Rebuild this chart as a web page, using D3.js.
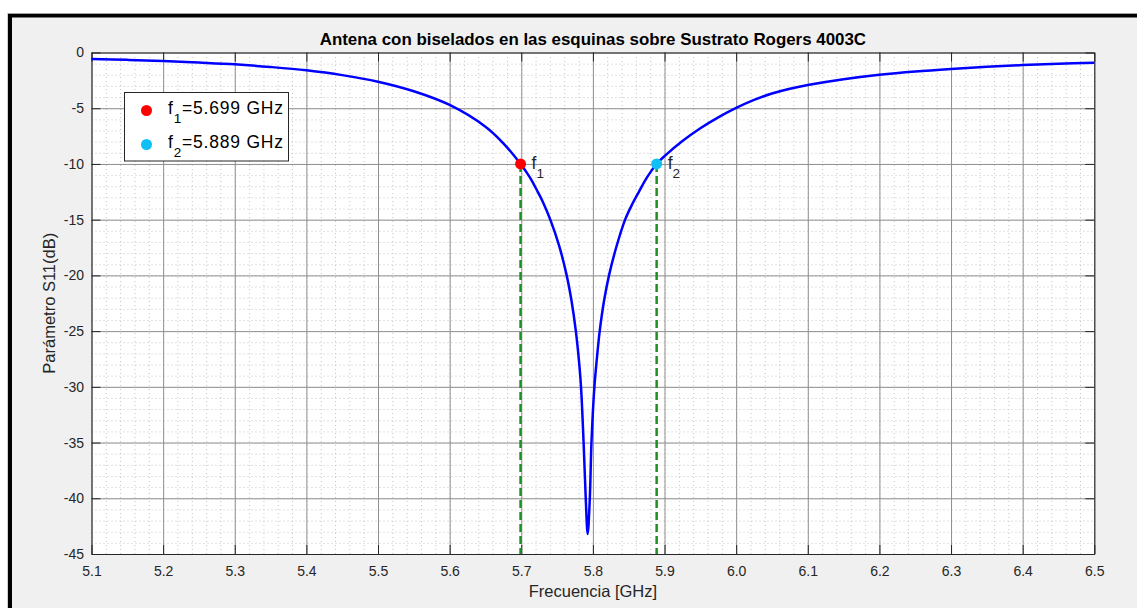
<!DOCTYPE html>
<html>
<head>
<meta charset="utf-8">
<script src="https://cdn.jsdelivr.net/npm/d3@7"></script>
<style>
	body { margin: 0; background: white; }
	text { font-family: "Liberation Sans", Arial, Helvetica, sans-serif; }
</style>
</head>
<body>
<svg id="canvas" width="1137" height="608"></svg>
<script>

//****************************************************************************************************************************//
// Data

var freq = [5.10, 5.15, 5.20, 5.25, 5.30, 5.35, 5.40, 5.45, 5.50, 5.55, 5.60, 5.65, 5.675, 5.699, 5.712, 5.723, 5.7308, 5.7405, 5.7527,
			5.7634, 5.7702, 5.7762, 5.7803, 5.7834, 5.787, 5.790, 5.7927, 5.7957, 5.798, 5.8021, 5.8055, 5.8095, 5.8155, 5.8225, 5.8325,
			5.845, 5.855, 5.8642, 5.8755, 5.889, 5.90, 5.925, 5.95, 5.975, 6.00, 6.025, 6.05, 6.075, 6.10, 6.15, 6.20, 6.25, 6.30, 6.35, 6.40, 6.45, 6.50];
var s11 = [-0.58, -0.66, -0.76, -0.90, -1.06, -1.30, -1.60, -2.03, -2.62, -3.48, -4.71, -6.66, -8.15, -10.0, -11.2, -12.5, -13.5, -15.0, -17.3,
			-20.0, -22.3, -25.0, -27.5, -30.0, -35.0, -40.0, -43.2, -40.0, -35.0, -30.0, -27.5, -25.0, -22.3, -20.0, -17.5,
			-15.0, -13.6, -12.5, -11.2, -10.0, -9.3, -7.95, -6.8, -5.82, -4.97, -4.25, -3.68, -3.25, -2.92, -2.40, -2.00, -1.70, -1.47, -1.28, -1.13, -1.01, -0.91];

var markerFreq = [5.699, 5.889];
var markerDb = [-10, -10];
var markerNames = ["1", "2"];
var markerColors = ["#ff0000", "#0fbff5"];

var xTicks = [5.1, 5.2, 5.3, 5.4, 5.5, 5.6, 5.7, 5.8, 5.9, 6.0, 6.1, 6.2, 6.3, 6.4, 6.5];
var yTicks = [0, -5, -10, -15, -20, -25, -30, -35, -40, -45];

//****************************************************************************************************************************//
// Canvas & Figure frame

var width = 1137, height = 608;
var canvas = d3.select("#canvas");

canvas.append("rect")
		.attr("x", 7.5).attr("y", 13)
		.attr("width", 1200).attr("height", 700)
		.attr("fill", "#a0a0a0");
canvas.append("rect")
		.attr("x", 8).attr("y", 14)
		.attr("width", 1200).attr("height", 700)
		.attr("fill", "#000");
canvas.append("rect")
		.attr("x", 12).attr("y", 17.5)
		.attr("width", 1200).attr("height", 700)
		.attr("fill", "#f0f0f0");

var plot = { left : 91.5, right : 1094.3, top : 52.5, bottom : 554 };
var plotW = plot.right - plot.left, plotH = plot.bottom - plot.top;

var x = d3.scaleLinear().domain([5.1, 6.5]).range([plot.left, plot.right]);
var y = d3.scaleLinear().domain([-45, 0]).range([plot.bottom, plot.top]);

canvas.append("rect")
		.attr("x", plot.left).attr("y", plot.top)
		.attr("width", plotW).attr("height", plotH)
		.attr("fill", "white");

//****************************************************************************************************************************//
// Grid

var xMinor = d3.range(5.1, 6.5001, 0.02), yMinor = d3.range(-45, 0.001, 1);

canvas.append("g")
		.attr("transform", "translate(0," + plot.bottom + ")")
		.call(d3.axisBottom(x).tickValues(xMinor).tickSize(-plotH).tickFormat(""))
		.call(g => g.select(".domain").remove())
		.selectAll("line").attr("stroke", "#c4c4c4").attr("stroke-dasharray", "1,3");
canvas.append("g")
		.attr("transform", "translate(" + plot.left + ",0)")
		.call(d3.axisLeft(y).tickValues(yMinor).tickSize(-plotW).tickFormat(""))
		.call(g => g.select(".domain").remove())
		.selectAll("line").attr("stroke", "#c4c4c4").attr("stroke-dasharray", "1,3");

canvas.append("g")
		.attr("transform", "translate(0," + plot.bottom + ")")
		.call(d3.axisBottom(x).tickValues(xTicks).tickSize(-plotH).tickFormat(""))
		.call(g => g.select(".domain").remove())
		.selectAll("line").attr("stroke", "#8f8f8f");
canvas.append("g")
		.attr("transform", "translate(" + plot.left + ",0)")
		.call(d3.axisLeft(y).tickValues(yTicks).tickSize(-plotW).tickFormat(""))
		.call(g => g.select(".domain").remove())
		.selectAll("line").attr("stroke", "#8f8f8f");

//****************************************************************************************************************************//
// Axes

function styleAxis(g){
	g.select(".domain").attr("stroke", "#262626");
	g.selectAll(".tick line").attr("stroke", "#262626");
	g.selectAll("text").attr("fill", "#262626").style("font-size", "14px")
		.style("font-family", "'Liberation Sans', Arial, sans-serif");
}

canvas.append("g")
		.attr("transform", "translate(0," + plot.bottom + ")")
		.call(d3.axisBottom(x).tickValues(xTicks).tickSize(-9).tickSizeOuter(0).tickPadding(12).tickFormat(d3.format(".1f")))
		.call(styleAxis);
canvas.append("g")
		.attr("transform", "translate(0," + plot.top + ")")
		.call(d3.axisTop(x).tickValues(xTicks).tickSize(-9).tickSizeOuter(0).tickFormat(""))
		.call(styleAxis);
canvas.append("g")
		.attr("transform", "translate(" + plot.left + ",0)")
		.call(d3.axisLeft(y).tickValues(yTicks).tickSize(-9).tickSizeOuter(0).tickPadding(7.5).tickFormat(d => String(d)))
		.call(styleAxis);
canvas.append("g")
		.attr("transform", "translate(" + plot.right + ",0)")
		.call(d3.axisRight(y).tickValues(yTicks).tickSize(-9).tickSizeOuter(0).tickFormat(""))
		.call(styleAxis);

// Labels
canvas.append("text")
		.attr("x", (plot.left + plot.right) / 2)
		.attr("y", 44.5)
		.attr("text-anchor", "middle")
		.style("font-size", "16.9px")
		.style("font-weight", "bold")
		.attr("fill", "#000")
		.text("Antena con biselados en las esquinas sobre Sustrato Rogers 4003C");

canvas.append("text")
		.attr("x", (plot.left + plot.right) / 2)
		.attr("y", 597)
		.attr("text-anchor", "middle")
		.style("font-size", "16.5px")
		.attr("fill", "#262626")
		.text("Frecuencia [GHz]");

canvas.append("text")
		.attr("transform", "translate(55," + (plot.top + plot.bottom) / 2 + ") rotate(-90)")
		.attr("text-anchor", "middle")
		.style("font-size", "16.5px")
		.attr("fill", "#262626")
		.text("Parámetro S11(dB)");

//****************************************************************************************************************************//
// Curve

var curve = d3.line()
			.x((d, i) => x(freq[i]))
			.y(d => y(d))
			.curve(d3.curveCatmullRom.alpha(0.5));

canvas.append("path")
		.attr("d", curve(s11))
		.attr("fill", "none")
		.attr("stroke", "#0000ff")
		.attr("stroke-width", 2.5)
		.attr("stroke-linejoin", "round");

//****************************************************************************************************************************//
// Markers

markerFreq.forEach(function(f, i){
	canvas.append("line")
		.attr("x1", x(f)).attr("x2", x(f))
		.attr("y1", y(markerDb[i])).attr("y2", y(-45))
		.attr("stroke", "#1f8f1f")
		.attr("stroke-width", 2.5)
		.attr("stroke-dasharray", "8,4");

	canvas.append("circle")
		.attr("cx", x(f)).attr("cy", y(markerDb[i]))
		.attr("r", 5.5)
		.attr("fill", markerColors[i]);

	var lbl = canvas.append("text")
		.attr("x", x(f) + 11)
		.attr("y", y(markerDb[i]) + 5)
		.style("font-size", "17.5px")
		.attr("fill", "#262626");
	lbl.append("tspan").text("f");
	lbl.append("tspan").attr("dy", 9).style("font-size", "13.5px").text(markerNames[i]);
});

//****************************************************************************************************************************//
// Legend

var legend = canvas.append("g");
legend.append("rect")
		.attr("x", 124.5).attr("y", 92.5)
		.attr("width", 164).attr("height", 68.5)
		.attr("fill", "white")
		.attr("stroke", "#262626")
		.attr("stroke-width", 1);

markerFreq.forEach(function(f, i){
	var ly = 110.5 + i * 34;
	legend.append("circle")
		.attr("cx", 146.5).attr("cy", ly)
		.attr("r", 5.5)
		.attr("fill", markerColors[i]);
	var t = legend.append("text")
		.attr("x", 168)
		.attr("y", ly + 3.5)
		.style("font-size", "17.5px")
		.style("letter-spacing", "0.8px")
		.attr("fill", "#000");
	t.append("tspan").text("f");
	t.append("tspan").attr("dy", 9).style("font-size", "13.5px").text(markerNames[i]);
	t.append("tspan").attr("dy", -9).text("=" + d3.format(".3f")(f) + " GHz");
});

</script>
</body>
</html>
